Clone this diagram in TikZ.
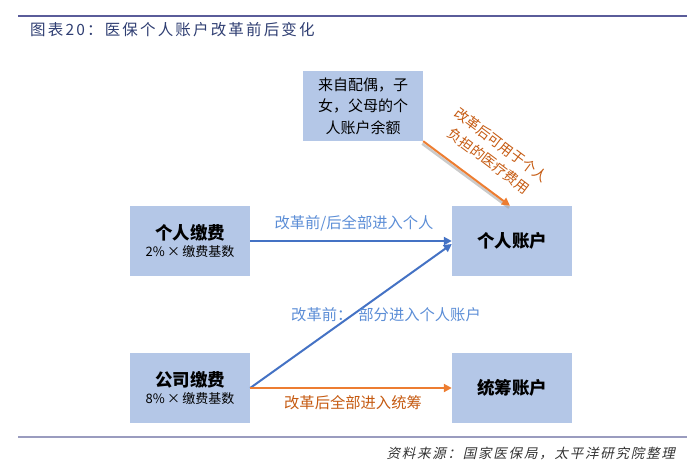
\documentclass[tikz,border=0pt]{standalone}
\usepackage{fontspec}
\setmainfont{Noto Sans CJK SC}
\newfontfamily\cjkit[FakeSlant=0.22,LetterSpace=13]{Noto Sans CJK SC}
\newfontfamily\cjktitle[LetterSpace=14]{Noto Sans CJK SC}
\usetikzlibrary{arrows.meta}
\definecolor{boxblue}{HTML}{B4C7E7}
\definecolor{arrblue}{HTML}{4472C4}
\definecolor{lblblue}{HTML}{5B8DD6}
\definecolor{arrorange}{HTML}{ED7D31}
\definecolor{lblorange}{HTML}{C55A11}
\definecolor{titleblue}{HTML}{2F3E72}
\definecolor{rulecol}{HTML}{5A5C9A}
\definecolor{rule2}{HTML}{9A9CBF}
\newcommand{\myboxbig}{\fontsize{17.5}{20}\selectfont\bfseries}
\newcommand{\myboxsmall}{\fontsize{13}{15}\selectfont}
\tikzset{
  box/.style={fill=boxblue, minimum width=120pt, minimum height=70pt, inner sep=0pt, align=center},
  bigtxt/.style={font=\myboxbig},
  bluearr/.style={draw=arrblue, line width=2pt, -{Triangle[length=8pt,width=8pt]}},
  orarr/.style={draw=arrorange, line width=2pt, -{Triangle[length=8pt,width=8pt]}},
  lblb/.style={text=lblblue, font=\fontsize{15.3}{17}\selectfont, inner sep=0pt},
  lblo/.style={text=lblorange, font=\fontsize{15.3}{17}\selectfont, inner sep=0pt},
}
\begin{document}
\begin{tikzpicture}[x=1pt,y=-1pt]
\useasboundingbox (0,0) rectangle (700,462);
% header
\coordinate (tl) at (18,16);
\coordinate (tr) at (687,16);
\draw[rulecol, line width=2.5pt] (tl) -- (tr);
\node[anchor=west, text=titleblue, font=\fontsize{15.5}{18}\cjktitle, inner sep=0pt] (title) at (30,30) {图表20：医保个人账户改革前后变化};
% footer
\coordinate (bl) at (18,437);
\coordinate (br) at (687,437);
\draw[rule2, line width=1.2pt] (bl) -- (br);
\node[anchor=east, text=black!80, font=\fontsize{13.5}{15}\cjkit, inner sep=0pt] (src) at (675,453) {资料来源：国家医保局，太平洋研究院整理};
% boxes
\node[box] (p) at (190,241) {{\myboxbig 个人缴费}\\[3pt]{\myboxsmall 2\%\,×\,缴费基数}};
\node[box] (c) at (190,388) {{\myboxbig 公司缴费}\\[3pt]{\myboxsmall 8\%\,×\,缴费基数}};
\node[box, bigtxt] (a) at (512,241) {个人账户};
\node[box, bigtxt] (s) at (512,388) {统筹账户};
\node[box, font=\fontsize{15}{21.5}\selectfont] (f) at (363,106) {来自配偶，子\\女，父母的个\\人账户余额};
% arrows
\draw[bluearr] (p.east) -- (a.west);
\draw[bluearr] (c.east) -- ([yshift=-3pt]a.west);
\draw[orarr] (c.east) -- (s.west);
\draw[black!35, opacity=0.6, line width=2.5pt] ([xshift=-1pt,yshift=-2.5pt]f.south east) -- ([xshift=-3pt,yshift=-2pt]a.north);
\draw[orarr] (f.south east) -- ([xshift=-2pt]a.north);
% labels
\node[lblb] (l1) at (354,223) {改革前/后全部进入个人};
\node[lblb] (l2) at (386,315) {改革前：\hspace{6pt}部分进入个人账户};
\node[lblo] (l3) at (353,403) {改革后全部进入统筹};
\node[lblo, rotate=-37, align=center, font=\fontsize{14}{20}\selectfont] (l4) at (495,153) {改革后可用于个人\\负担的医疗费用};
\end{tikzpicture}
\end{document}
